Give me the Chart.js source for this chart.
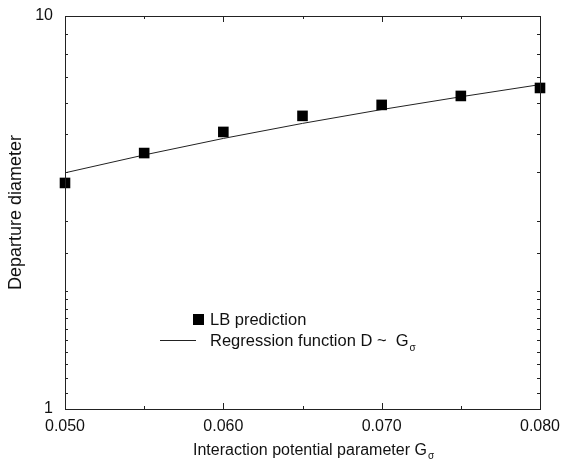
<!DOCTYPE html>
<html>
<head>
<meta charset="utf-8">
<script src="https://cdn.jsdelivr.net/npm/chart.js@4.4.0/dist/chart.umd.min.js"></script>
<style>
  html, body { margin: 0; padding: 0; background: #fff; }
  #wrap { width: 562px; height: 459px; }
</style>
</head>
<body>
<div id="wrap"><canvas id="c" width="562" height="459"></canvas></div>
<script>
// data
const gSigma = [0.050, 0.055, 0.060, 0.065, 0.070, 0.075, 0.080];
const lbPrediction = [3.76, 4.48, 5.07, 5.57, 5.94, 6.26, 6.56];
const regression = [3.99, 4.43, 4.88, 5.33, 5.78, 6.23, 6.69];
const xTickLabels = ['0.050', '0.060', '0.070', '0.080'];
const yTickLabels = ['1', '10'];

const FONT = '"Liberation Sans", Arial, Helvetica, sans-serif';

// frame, inward ticks, x title with subscript, legend inside the plot
const framePlugin = {
    id: 'frame',
    afterDraw(chart) {
        const ctx = chart.ctx;
        const a = chart.chartArea;
        const xs = chart.scales.x;
        const ys = chart.scales.y;
        ctx.save();
        ctx.strokeStyle = '#222';
        ctx.lineWidth = 1;
        ctx.strokeRect(a.left + 0.5, a.top + 0.5, a.right - a.left, a.bottom - a.top);

        ctx.beginPath();
        xs.ticks.forEach(t => {
            const px = Math.round(xs.getPixelForValue(t.value)) + 0.5;
            const major = xTickLabels.includes(t.value.toFixed(3));
            const len = major ? 6 : 3;
            ctx.moveTo(px, a.bottom);
            ctx.lineTo(px, a.bottom - len);
            ctx.moveTo(px, a.top);
            ctx.lineTo(px, a.top + len);
        });
        ys.ticks.forEach(t => {
            const py = Math.round(ys.getPixelForValue(t.value)) + 0.5;
            ctx.moveTo(a.left, py);
            ctx.lineTo(a.left + 3, py);
            ctx.moveTo(a.right, py);
            ctx.lineTo(a.right - 3, py);
        });
        ctx.stroke();

        // x title
        ctx.fillStyle = '#111';
        ctx.textBaseline = 'alphabetic';
        ctx.textAlign = 'left';
        ctx.font = '16px ' + FONT;
        const title = 'Interaction potential parameter G';
        ctx.fillText(title, 193, 455);
        const tw = ctx.measureText(title).width;
        ctx.font = '10px ' + FONT;
        ctx.fillText('\u03c3', 193 + tw + 1, 459);

        // legend
        ctx.fillStyle = '#000';
        ctx.fillRect(193, 314, 11, 11);
        ctx.fillStyle = '#111';
        ctx.font = '16.5px ' + FONT;
        ctx.fillText('LB prediction', 210, 325);
        ctx.beginPath();
        ctx.moveTo(160, 340.5);
        ctx.lineTo(196, 340.5);
        ctx.stroke();
        const reg = 'Regression function D ~  G';
        ctx.fillText(reg, 210, 346);
        const rw = ctx.measureText(reg).width;
        ctx.font = '10px ' + FONT;
        ctx.fillText('\u03c3', 210 + rw + 1, 351);
        ctx.restore();
    }
};

const ctx = document.getElementById('c').getContext('2d');
const myChart = new Chart(ctx, {
    type: 'scatter',
    data: {
        datasets: [{
            label: 'Regression function',
            data: gSigma.map((g, i) => ({ x: g, y: regression[i] })),
            showLine: true,
            borderColor: '#222',
            borderWidth: 1,
            pointRadius: 0,
            clip: false,
            order: 2
        }, {
            label: 'LB prediction',
            data: gSigma.map((g, i) => ({ x: g, y: lbPrediction[i] })),
            pointStyle: 'rect',
            pointRadius: 7.5,
            backgroundColor: '#000',
            borderColor: '#000',
            borderWidth: 0,
            clip: false,
            order: 1
        }]
    },
    options: {
        responsive: false,
        animation: false,
        layout: { padding: { top: 16, right: 22, left: 0, bottom: 0 } },
        plugins: {
            legend: { display: false },
            tooltip: { enabled: false }
        },
        scales: {
            x: {
                type: 'linear',
                min: 0.05,
                max: 0.08,
                grid: { display: false, drawTicks: false },
                border: { display: false },
                afterFit: s => {
                    s.height = 50;
                    s.paddingLeft = 0;
                    s.paddingRight = 0;
                },
                ticks: {
                    stepSize: 0.005,
                    autoSkip: false,
                    maxRotation: 0,
                    padding: 8,
                    color: '#111',
                    font: { family: FONT, size: 16 },
                    callback: v => {
                        const s = Number(v).toFixed(3);
                        return xTickLabels.includes(s) ? s : '';
                    }
                }
            },
            y: {
                type: 'logarithmic',
                min: 1,
                max: 10,
                grid: { display: false, drawTicks: false },
                border: { display: false },
                afterFit: s => {
                    s.width = 65;
                    s.paddingTop = 0;
                    s.paddingBottom = 0;
                },
                ticks: {
                    autoSkip: false,
                    padding: 12,
                    color: '#111',
                    font: { family: FONT, size: 16 },
                    callback: v => {
                        const s = String(Number(v));
                        return yTickLabels.includes(s) ? s : '';
                    }
                },
                title: {
                    display: true,
                    text: 'Departure diameter',
                    color: '#111',
                    font: { family: FONT, size: 18 },
                    padding: { top: 5, bottom: 0 }
                }
            }
        }
    },
    plugins: [framePlugin]
});
</script>
</body>
</html>
